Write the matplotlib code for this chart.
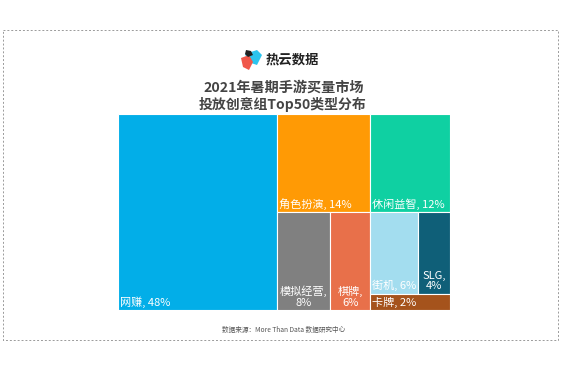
import matplotlib
matplotlib.use('Agg')
import matplotlib.pyplot as plt
from matplotlib.patches import Rectangle, Polygon

plt.rcParams['font.family'] = ['Noto Sans CJK SC', 'DejaVu Sans']

W, H = 565, 377
categories = ['网赚', '角色扮演', '休闲益智', '模拟经营', '棋牌', '街机', 'SLG', '卡牌']
values = [48, 14, 12, 8, 6, 6, 4, 2]
colors = ['#02AEE8', '#FF9A05', '#0FD0A2', '#808080', '#E8704A', '#A3DDEF', '#0F5F78', '#A5531C']
labels = ['网赚, 48%', '角色扮演, 14%', '休闲益智, 12%', '模拟经营,\n8%', '棋牌,\n6%', '街机, 6%', 'SLG,\n4%', '卡牌, 2%']
title_lines = ['2021年暑期手游买量市场', '投放创意组Top50类型分布']
brand = '热云数据'
source = '数据来源：More Than Data 数据研究中心'


def layout(vals):
    """Slice layout in a 0-1 x 0-1 box (y up)."""
    total = sum(vals)
    v = [x / total for x in vals]
    rects = []
    x0 = v[0]
    rects.append((0, 0, x0, 1))
    rest = 1 - x0
    row = v[1] + v[2]
    rh = row / rest
    y = 1 - rh
    rects.append((x0, y, rest * v[1] / row, rh))
    rects.append((x0 + rest * v[1] / row, y, rest * v[2] / row, rh))
    lo = 1 - rh
    w_a = (v[3] + v[4]) / lo
    rects.append((x0, 0, w_a * v[3] / (v[3] + v[4]), lo))
    rects.append((x0 + w_a * v[3] / (v[3] + v[4]), 0, w_a * v[4] / (v[3] + v[4]), lo))
    xr = x0 + w_a
    wr = rest - w_a
    up = (v[5] + v[6]) / (v[5] + v[6] + v[7]) * lo
    rects.append((xr, lo - up, wr * v[5] / (v[5] + v[6]), up))
    rects.append((xr + wr * v[5] / (v[5] + v[6]), lo - up, wr * v[6] / (v[5] + v[6]), up))
    rects.append((xr, 0, wr, lo - up))
    return rects


fig = plt.figure(figsize=(W / 100, H / 100), dpi=100, facecolor='white')

# overlay in pixel coordinates for frame, logo and texts
bg = fig.add_axes([0, 0, 1, 1])
bg.set_xlim(0, W)
bg.set_ylim(H, 0)
bg.axis('off')
bg.add_patch(Rectangle((3, 30), 555, 310, fill=False, ec='#9a9a9a', lw=0.7, ls=(0, (2, 2))))

# logo
bg.add_patch(Polygon([[245, 54], [257, 50], [262, 55], [257, 65], [248, 62]], fc='#2CC4EE', ec='none'))
bg.add_patch(Polygon([[241, 58], [249, 55], [253, 62], [249, 70], [243, 67]], fc='#F0574A', ec='none'))
bg.add_patch(Polygon([[246, 50], [251, 51], [253, 55], [248, 57], [245, 54]], fc='#222222', ec='none'))
bg.text(266, 60, brand, fontsize=9.6, fontweight='bold', color='#222222', ha='left', va='center')

bg.text(284, 87.5, title_lines[0], fontsize=10.2, fontweight='bold', color='#444444', ha='center', va='center')
bg.text(283, 104.5, title_lines[1], fontsize=10.0, fontweight='bold', color='#444444', ha='center', va='center')
bg.text(284, 330, source, fontsize=4.8, color='#555555', ha='center', va='center')

# treemap
ax = fig.add_axes([118 / W, 1 - 310 / H, 332 / W, 196 / H])
ax.set_xlim(0, 1)
ax.set_ylim(0, 1)
ax.axis('off')
for (x, y, w, h), c, lab in zip(layout(values), colors, labels):
    ax.add_patch(Rectangle((x, y), w, h, fc=c, ec='white', lw=0.8))
    if '\n' in lab:
        ax.text(x + w / 2, y + 0.012, lab, color='white', fontsize=8, ha='center', va='bottom', linespacing=1.05)
    else:
        ax.text(x + 0.006, y + 0.012, lab, color='white', fontsize=8, ha='left', va='bottom')

fig.savefig('out.png', dpi=100, facecolor='white')
